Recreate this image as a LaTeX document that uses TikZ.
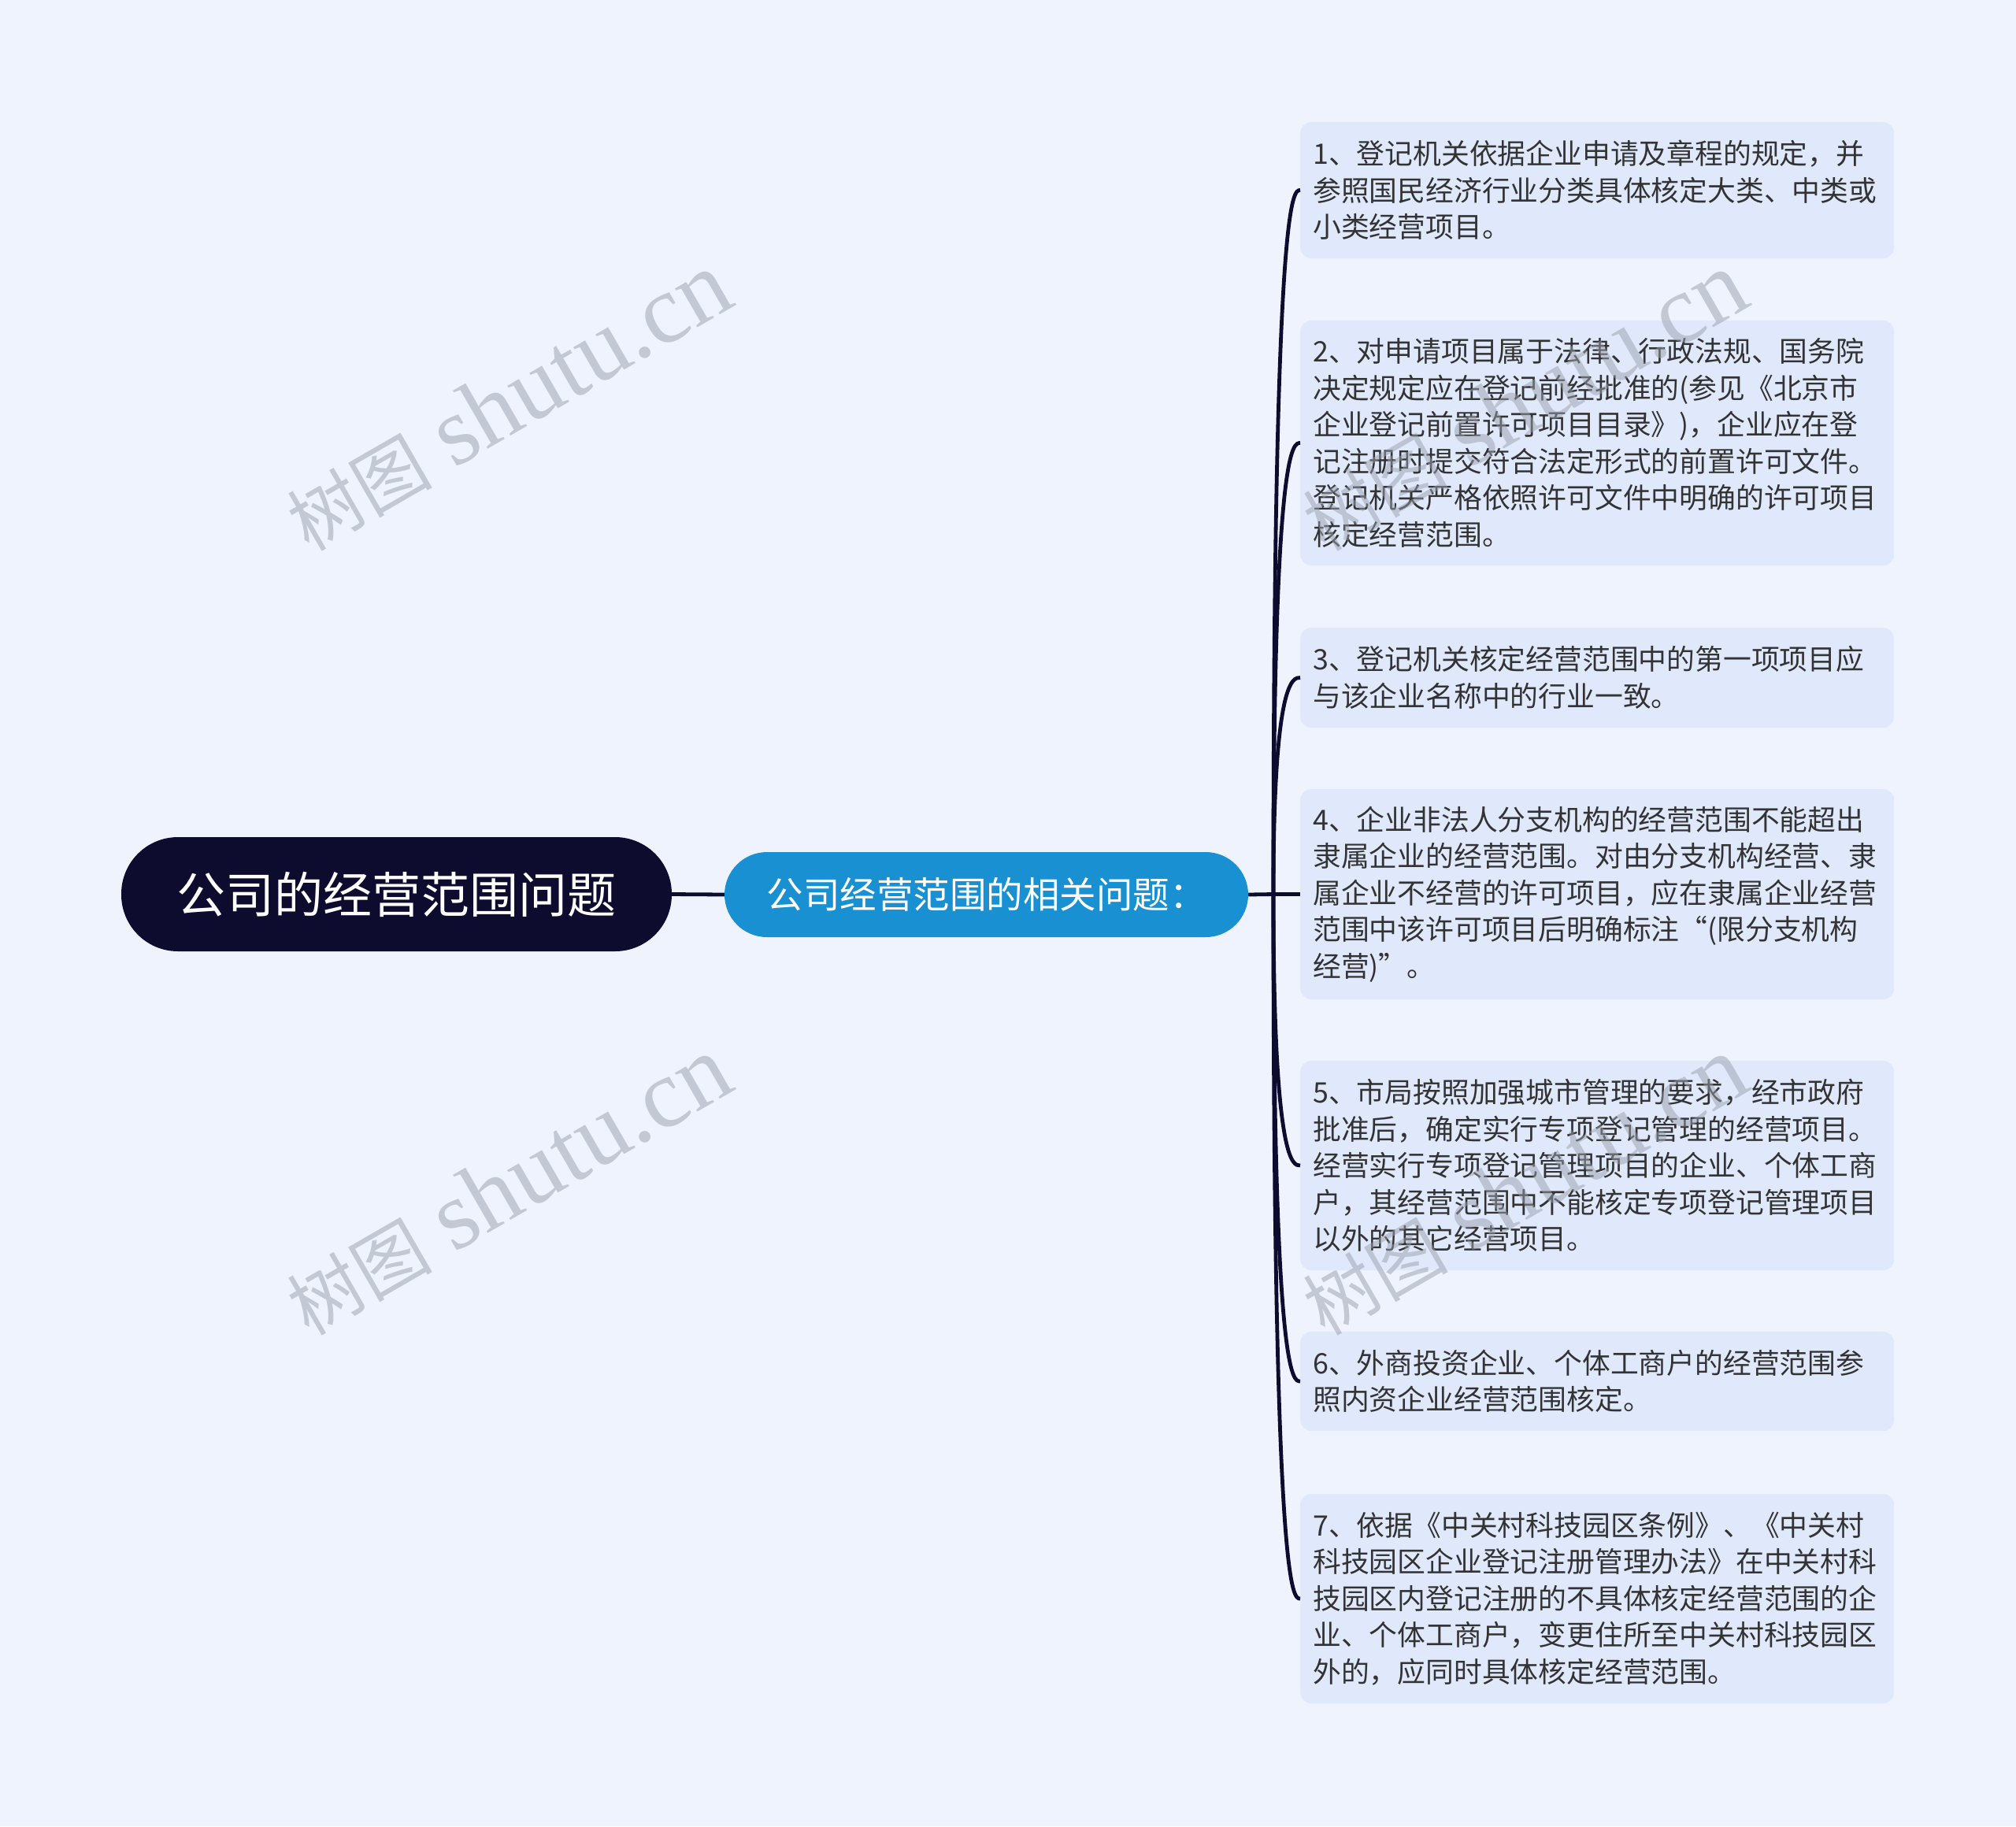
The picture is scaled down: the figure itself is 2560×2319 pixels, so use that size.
\documentclass[tikz,border=0pt]{standalone}
\usepackage{fontspec}
\setmainfont{Noto Sans CJK SC}
\newfontfamily\cjkwm{Noto Sans CJK SC}
\newfontfamily\latinwm{Liberation Serif}
\definecolor{bgc}{HTML}{EEF3FE}
\definecolor{leafc}{HTML}{E0E9FB}
\definecolor{rootc}{HTML}{0D0B2E}
\definecolor{midc}{HTML}{1890D2}
\definecolor{linec}{HTML}{0D0B2E}
\definecolor{txt}{HTML}{333333}
\definecolor{wmc}{HTML}{9AA0AC}
\newcommand{\wmtext}{{\cjkwm\fontsize{92pt}{94pt}\selectfont 树图}\hspace{28pt}{\latinwm\fontsize{124pt}{126pt}\selectfont shutu.cn}}
\begin{document}
\begin{tikzpicture}[x=1pt,y=-1pt,
  leaf/.style={fill=leafc, rounded corners=14pt, anchor=west, text width=722pt,
    inner xsep=16pt, inner ysep=0pt, align=left, text=txt,
    font=\fontsize{35.8pt}{46.5pt}\selectfont},
  rootbox/.style={fill=rootc, text=white, rounded corners=72pt, minimum width=699pt,
    minimum height=145pt, inner sep=0pt, font=\fontsize{62pt}{70pt}\selectfont},
  midbox/.style={fill=midc, text=white, rounded corners=54pt, minimum width=665pt,
    minimum height=108pt, inner sep=0pt, font=\fontsize{46.5pt}{54pt}\selectfont},
  link/.style={draw=linec, line width=4.8pt},
  wm/.style={rotate=30, text=wmc, text opacity=0.5, inner sep=0pt}]
\fill[bgc] (0,0) rectangle (2560,2319);
\useasboundingbox (0,0) rectangle (2560,2319);

\node[rootbox] (root) at (503.5,1135.5) {公司的经营范围问题};
\node[midbox] (mid) at (1252.5,1136) {公司经营范围的相关问题：};

\node[leaf, minimum height=173pt] (l1) at (1651,241.5) {1、登记机关依据企业申请及章程的规定，并\\参照国民经济行业分类具体核定大类、中类或\\小类经营项目。};
\node[leaf, minimum height=311pt] (l2) at (1651,562.5) {2、对申请项目属于法律、行政法规、国务院\\决定规定应在登记前经批准的(参见《北京市\\企业登记前置许可项目目录》)，企业应在登\\记注册时提交符合法定形式的前置许可文件。\\登记机关严格依照许可文件中明确的许可项目\\核定经营范围。};
\node[leaf, minimum height=127pt] (l3) at (1651,860.5) {3、登记机关核定经营范围中的第一项项目应\\与该企业名称中的行业一致。};
\node[leaf, minimum height=267pt] (l4) at (1651,1135.5) {4、企业非法人分支机构的经营范围不能超出\\隶属企业的经营范围。对由分支机构经营、隶\\属企业不经营的许可项目，应在隶属企业经营\\范围中该许可项目后明确标注“(限分支机构\\经营)”。};
\node[leaf, minimum height=266pt] (l5) at (1651,1480) {5、市局按照加强城市管理的要求，经市政府\\批准后，确定实行专项登记管理的经营项目。\\经营实行专项登记管理项目的企业、个体工商\\户，其经营范围中不能核定专项登记管理项目\\以外的其它经营项目。};
\node[leaf, minimum height=126pt] (l6) at (1651,1754) {6、外商投资企业、个体工商户的经营范围参\\照内资企业经营范围核定。};
\node[leaf, minimum height=266pt] (l7) at (1651,2030) {7、依据《中关村科技园区条例》、《中关村\\科技园区企业登记注册管理办法》在中关村科\\技园区内登记注册的不具体核定经营范围的企\\业、个体工商户，变更住所至中关村科技园区\\外的，应同时具体核定经营范围。};

\coordinate (j) at (1617,1135.5);
\draw[link] (root.east) -- (mid.west);
\draw[link] (mid.east) -- (j);
\foreach \n in {l1,l2,l3,l4,l5,l6,l7}
  \draw[link] (j) .. controls (j |- \n.west) and ([xshift=-9pt]\n.west) .. (\n.west);

\node[wm] (w1) at (645,510) {\wmtext};
\node[wm] (w2) at (645,1506) {\wmtext};
\node[wm] (w3) at (1935,510) {\wmtext};
\node[wm] (w4) at (1935,1506) {\wmtext};
\end{tikzpicture}
\end{document}
